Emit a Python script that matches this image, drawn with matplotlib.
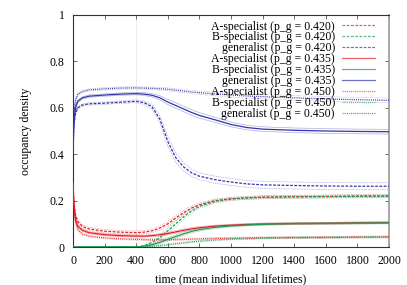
import numpy as np
import matplotlib
matplotlib.use("Agg")
import matplotlib.pyplot as plt

plt.rcParams['font.family'] = ['Liberation Serif', 'DejaVu Serif']

# time points (mean individual lifetimes)
t = [0, 5, 15, 30, 60, 100, 200, 300, 400, 450, 500, 550, 600, 650, 700,
     750, 800, 900, 1000, 1100, 1200, 1400, 1600, 1800, 2000]

# p_g = 0.420
a420 = [0.275, 0.20, 0.14, 0.11, 0.088, 0.078, 0.068, 0.064, 0.062, 0.064, 0.070, 0.082, 0.100,
        0.125, 0.148, 0.168, 0.182, 0.200, 0.208, 0.212, 0.215, 0.217, 0.218, 0.220, 0.220]
b420 = [0, 0, 0, 0, 0, 0, 0, 0, 0, 0.005, 0.020, 0.040, 0.070, 0.100, 0.130, 0.155, 0.175,
        0.197, 0.207, 0.211, 0.214, 0.216, 0.217, 0.218, 0.219]
g420 = [0.40, 0.52, 0.575, 0.600, 0.612, 0.617, 0.620, 0.624, 0.628, 0.622, 0.605, 0.550, 0.455,
        0.385, 0.345, 0.320, 0.305, 0.290, 0.280, 0.272, 0.268, 0.265, 0.263, 0.262, 0.262]
# p_g = 0.435
a435 = [0.275, 0.19, 0.12, 0.090, 0.072, 0.062, 0.053, 0.049, 0.047, 0.047, 0.049, 0.053, 0.058,
        0.065, 0.072, 0.078, 0.083, 0.090, 0.094, 0.097, 0.099, 0.101, 0.102, 0.104, 0.105]
b435 = [0, 0, 0, 0, 0, 0, 0, 0, 0, 0.003, 0.010, 0.020, 0.033, 0.045, 0.057, 0.067, 0.075,
        0.085, 0.091, 0.095, 0.098, 0.101, 0.102, 0.103, 0.104]
g435 = [0.40, 0.53, 0.600, 0.628, 0.643, 0.650, 0.655, 0.659, 0.661, 0.659, 0.654, 0.643, 0.625,
        0.610, 0.595, 0.580, 0.567, 0.548, 0.528, 0.515, 0.508, 0.503, 0.500, 0.498, 0.497]
# p_g = 0.450
a450 = [0.275, 0.18, 0.11, 0.075, 0.056, 0.047, 0.039, 0.035, 0.033, 0.032, 0.031, 0.031, 0.031,
        0.032, 0.033, 0.034, 0.035, 0.037, 0.038, 0.039, 0.040, 0.041, 0.042, 0.043, 0.044]
b450 = [0, 0, 0, 0, 0, 0, 0, 0, 0, 0.001, 0.003, 0.006, 0.010, 0.014, 0.018, 0.022, 0.025,
        0.030, 0.034, 0.036, 0.038, 0.040, 0.041, 0.042, 0.043]
g450 = [0.40, 0.56, 0.630, 0.658, 0.670, 0.677, 0.682, 0.685, 0.686, 0.685, 0.684, 0.682, 0.680,
        0.676, 0.672, 0.668, 0.665, 0.660, 0.655, 0.651, 0.648, 0.643, 0.638, 0.635, 0.632]

# spread (std) of each series, drawn as thin envelope lines
a420_sd = [0, 0.01, 0.008, 0.007, 0.007, 0.007, 0.007, 0.007, 0.007, 0.007, 0.008, 0.009, 0.010,
           0.010, 0.010, 0.009, 0.008, 0.007, 0.006, 0.006, 0.006, 0.006, 0.006, 0.006, 0.006]
b420_sd = [0, 0, 0, 0, 0, 0, 0, 0, 0, 0.003, 0.008, 0.010, 0.012, 0.012, 0.012, 0.010, 0.008,
           0.007, 0.006, 0.006, 0.006, 0.006, 0.006, 0.006, 0.006]
g420_sd = [0, 0.010, 0.008, 0.006, 0.005, 0.005, 0.005, 0.005, 0.006, 0.007, 0.010, 0.015, 0.020,
           0.020, 0.018, 0.016, 0.015, 0.015, 0.015, 0.015, 0.015, 0.015, 0.015, 0.015, 0.015]
a435_sd = [0, 0.008, 0.006, 0.005, 0.005, 0.004, 0.004, 0.004, 0.004, 0.004, 0.004, 0.005, 0.005,
           0.005, 0.005, 0.005, 0.005, 0.004, 0.004, 0.004, 0.004, 0.004, 0.004, 0.004, 0.004]
b435_sd = [0, 0, 0, 0, 0, 0, 0, 0, 0, 0.002, 0.004, 0.006, 0.007, 0.007, 0.007, 0.006, 0.006,
           0.005, 0.004, 0.004, 0.004, 0.004, 0.004, 0.004, 0.004]
g435_sd = [0, 0.010, 0.007, 0.006, 0.005, 0.005, 0.005, 0.005, 0.005, 0.006, 0.007, 0.009, 0.011,
           0.012, 0.012, 0.012, 0.012, 0.011, 0.010, 0.010, 0.010, 0.010, 0.010, 0.010, 0.010]
a450_sd = [0, 0.008, 0.006, 0.005, 0.005, 0.005, 0.004, 0.004, 0.004, 0.004, 0.004, 0.004, 0.004,
           0.004, 0.004, 0.004, 0.004, 0.004, 0.004, 0.004, 0.004, 0.004, 0.004, 0.004, 0.004]
b450_sd = [0, 0, 0, 0, 0, 0, 0, 0, 0, 0.001, 0.002, 0.003, 0.004, 0.004, 0.004, 0.004, 0.004,
           0.004, 0.004, 0.004, 0.004, 0.004, 0.004, 0.004, 0.004]
g450_sd = [0, 0.010, 0.007, 0.006, 0.005, 0.005, 0.005, 0.005, 0.005, 0.005, 0.005, 0.006, 0.006,
           0.006, 0.007, 0.007, 0.007, 0.008, 0.008, 0.009, 0.009, 0.010, 0.010, 0.010, 0.010]

RED = '#e41e26'
GREEN = '#1d9a55'
BLUE = '#3434aa'
STYLES = {'0.420': (0, (2.2, 1.2)), '0.435': '-', '0.450': (0, (0.8, 0.9))}
FS = 8.5

series = [
    ('A-specialist', '0.420', a420, a420_sd, RED),
    ('B-specialist', '0.420', b420, b420_sd, GREEN),
    ('generalist', '0.420', g420, g420_sd, BLUE),
    ('A-specialist', '0.435', a435, a435_sd, RED),
    ('B-specialist', '0.435', b435, b435_sd, GREEN),
    ('generalist', '0.435', g435, g435_sd, BLUE),
    ('A-specialist', '0.450', a450, a450_sd, RED),
    ('B-specialist', '0.450', b450, b450_sd, GREEN),
    ('generalist', '0.450', g450, g450_sd, BLUE),
]

fig = plt.figure(figsize=(4.07, 2.85), dpi=100)
ax = fig.add_axes([0.1794, 0.1333, 0.7764, 0.8141])

ax.axvline(400, color='#c8c8c8', lw=0.6, ls=(0, (1, 1.5)), zorder=1)

tt = np.array(t)
for name, pg, mean, sd, col in series:
    mean = np.array(mean)
    sd = np.array(sd)
    ls = STYLES[pg]
    for env in (mean + sd, mean - sd):
        ax.plot(tt, env, color=col, lw=0.5, alpha=0.4, ls=ls, zorder=2)
    ax.plot(tt, mean, color=col, lw=0.9, ls=ls, zorder=3,
            label=f'{name} (p_g = {pg})')

ax.set_xlim(0, 2000)
ax.set_ylim(0, 1)
ax.set_xticks(range(0, 2001, 200))
ax.set_yticks([0, 0.2, 0.4, 0.6, 0.8, 1])
ax.set_yticklabels(['0', '0.2', '0.4', '0.6', '0.8', '1'])
ax.tick_params(direction='in', length=3, width=0.6, top=True, right=True,
               labelsize=FS, color='#555555', pad=6)
for s in ax.spines.values():
    s.set_linewidth(0.8)
    s.set_color('#333333')
ax.spines['right'].set_color('#999999')
ax.spines['right'].set_linewidth(1.2)

ax.set_xlabel('time (mean individual lifetimes)', fontsize=FS, labelpad=4)
ax.set_ylabel('occupancy density', fontsize=FS, labelpad=13)

leg = ax.legend(loc='upper right', bbox_to_anchor=(0.9557, 0.976), frameon=False,
                markerfirst=False, fontsize=FS, handlelength=2.8, handletextpad=0.6,
                labelspacing=-0.09, borderaxespad=0, borderpad=0)
for line in leg.get_lines():
    line.set_linewidth(0.9)
    line.set_alpha(0.7)

fig.savefig('out.png', dpi=100)
